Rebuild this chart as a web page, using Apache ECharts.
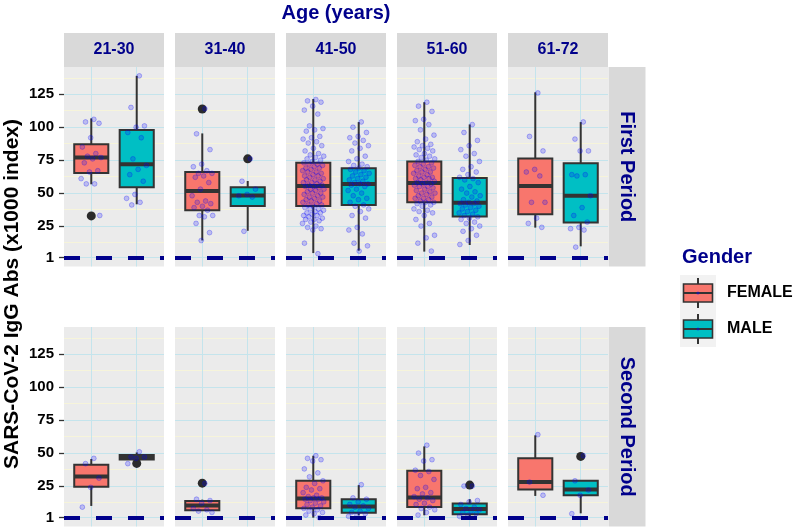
<!DOCTYPE html>
<html>
<head>
<meta charset="utf-8">
<title>SARS-CoV-2 IgG Abs by age, gender and period</title>
<script src="https://cdn.jsdelivr.net/npm/echarts@6.0.0/dist/echarts.min.js"></script>
<style>
  html, body { margin: 0; padding: 0; background: #fff; }
  #chart { width: 796px; height: 529px; }
</style>
</head>
<body>
<div id="chart"></div>
<script>
// facets
const ageGroups = ['21-30', '31-40', '41-50', '51-60', '61-72'];
const periods = ['First Period', 'Second Period'];
const genders = ['FEMALE', 'MALE'];

// y axis breaks
const yBreaks = [1, 25, 50, 75, 100, 125];
const yMinorBreaks = [13, 37.5, 62.5, 87.5, 112.5, 137.5];
const refLine = 1;

// box stats per age group: [lower whisker, Q1, median, Q3, upper whisker]
const firstFemaleBox = [
  [56.7, 65.3, 77, 87, 106.7],
  [14.1, 37, 51.6, 66.1, 95.3],
  [4.5, 40.2, 55.4, 73, 121.4],
  [5.6, 43, 57.7, 74, 119],
  [23.8, 33.9, 55.4, 76.3, 126.5]
];
const firstMaleBox = [
  [41.5, 54.4, 71.9, 97.8, 139],
  [21.4, 40.3, 48.2, 54.4, 59.2],
  [6.3, 41, 57, 68.9, 103.9],
  [10.6, 32.2, 42.6, 61.5, 102.1],
  [9.6, 27.6, 47.9, 72.7, 103.9]
];
const secondFemaleBox = [
  [9.9, 24.4, 32.3, 41.2, 45.5],
  [6.6, 6.6, 10.2, 13.7, 14.7],
  [1, 8.1, 15.5, 29, 48],
  [2.8, 9.1, 16.3, 36.6, 55.1],
  [17.5, 22.4, 28, 46, 63.5]
];
const secondMaleBox = [
  [45.2, 45.2, 47, 48.5, 50.5],
  null,
  [2.8, 4.8, 9.4, 15, 25.7],
  [2.3, 3.6, 7.6, 11.7, 15],
  [4.3, 18, 22.4, 29, 29]
];

// outliers per age group
const firstFemaleOut = [[32.7], [113.8], [], [], []];
const firstMaleOut = [[], [76], [], [], []];
const secondFemaleOut = [[], [27.2], [], [], []];
const secondMaleOut = [[42.2], [], [], [25.7], [47.5]];

// individual measurements per age group
const firstFemalePts = [
  [106, 104, 103, 92, 85, 80, 78, 77, 76, 73, 67, 66, 61, 57, 57, 33],
  [114, 95, 83, 72, 70, 67, 65, 65, 63, 62, 58, 53, 48, 44, 43, 42, 40, 39, 37, 33, 33, 32, 27, 20, 14],
  [121, 120, 119, 116, 113, 110, 101, 99, 98, 97, 93, 92, 91, 89, 88, 86, 84, 82, 80, 79, 78, 77, 76, 75, 74,
   73, 72, 72, 71, 70, 69, 69, 68, 67, 66, 66, 65, 64, 63, 63, 62, 61, 60, 60, 59, 58, 58, 57, 56, 56,
   55, 55, 54, 53, 53, 52, 51, 50, 50, 49, 48, 47, 47, 46, 45, 44, 44, 43, 42, 41, 41, 40,
   39, 38, 38, 37, 36, 35, 35, 34, 33, 33, 32, 31, 30, 30, 29, 28, 27, 25, 24, 23, 22, 12, 4],
  [119, 116, 112, 106, 105, 102, 98, 94, 91, 89, 87, 86, 85, 84, 83, 82, 80, 79, 78, 77, 76, 75,
   74, 73, 72, 71, 70, 70, 69, 68, 67, 66, 66, 65, 64, 63, 62, 62, 61, 61, 60, 59, 58, 58, 57,
   57, 56, 55, 55, 54, 53, 52, 51, 50, 50, 49, 48, 47, 46, 46, 45, 44, 43, 43,
   42, 41, 40, 38, 37, 36, 35, 33, 30, 27, 25, 18, 16, 12, 6],
  [126, 93, 82, 68, 66, 63, 43, 43, 31, 27, 24]
];
const firstMalePts = [
  [139, 115, 101, 100, 96, 92, 76, 71, 68, 64, 59, 49, 46, 43, 41],
  [76, 59, 53, 49, 48, 47, 21],
  [104, 100, 96, 93, 92, 90, 88, 86, 84, 82, 78, 76, 74, 72, 71, 70, 69, 68, 67, 66, 65, 64, 63, 62, 61,
   60, 59, 58, 57, 57, 56, 55, 53, 52, 50, 48, 46, 45, 43, 41, 40, 38, 36, 33, 31, 24, 22, 19, 12, 10, 6],
  [102, 96, 90, 86, 83, 80, 78, 74, 70, 68, 66, 64, 62, 61, 60, 58, 55, 53, 51, 50, 48, 47, 45, 44,
   43, 42, 42, 41, 40, 39, 38, 37, 36, 35, 34, 33, 32, 31, 30, 28, 27, 25, 23, 21, 18, 14, 11],
  [104, 91, 82, 82, 64, 64, 63, 48, 39, 33, 28, 24, 23, 22, 9]
];
const secondFemalePts = [
  [46, 42, 31, 24, 9],
  [27, 15, 14, 12, 8, 7, 6, 5],
  [48, 46, 45, 44, 38, 35, 32, 29, 27, 24, 23, 22, 20, 18, 17, 16, 16, 15, 15, 14, 13, 12, 11, 10, 9, 8, 7, 6, 5, 4, 3, 1],
  [56, 50, 45, 44, 37, 36, 33, 30, 24, 23, 20, 19, 17, 16, 15, 14, 12, 11, 9, 8, 7, 5, 3],
  [64, 28, 18]
];
const secondMalePts = [
  [51, 47, 47, 46, 42],
  [],
  [26, 16, 15, 13, 11, 10, 9, 8, 6, 5, 4, 3, 2],
  [25, 25, 14, 13, 11, 9, 8, 7, 6, 5, 4, 3, 2],
  [48, 29, 22, 18, 4]
];

const boxes = [[firstFemaleBox, firstMaleBox], [secondFemaleBox, secondMaleBox]];
const outliers = [[firstFemaleOut, firstMaleOut], [secondFemaleOut, secondMaleOut]];
const points = [[firstFemalePts, firstMalePts], [secondFemalePts, secondMalePts]];

// layout (px) and look
const COL_X = [64, 175, 286, 397, 508];
const ROW_Y = [67, 327];
const PANEL_W = 100, PANEL_H = 199.5;
const STRIP_TOP = 33, STRIP_H = 34;
const Y_MIN = -5.7, Y_MAX = 145.7;
const BOX_WIDTH = 0.75;
const FONT = 'Liberation Sans, Arial, sans-serif';
const NAVY = '#00008B';
const FILL = { FEMALE: '#F8766D', MALE: '#00BFC4' };
const INK = '#333333';
const MAJOR = '#C4E4EC', MINOR = '#F6F4DA';

// deterministic horizontal spread for the jittered dots (about +-0.24 units)
const spread = (i) => (((i + 1) * 0.6180339887) % 1 - 0.5) * 0.48;

function renderBox(params, api) {
  const x = api.value(0);
  const low = api.coord([x, api.value(1)]);
  const q1 = api.coord([x, api.value(2)]);
  const med = api.coord([x, api.value(3)]);
  const q3 = api.coord([x, api.value(4)]);
  const high = api.coord([x, api.value(5)]);
  const half = api.size([BOX_WIDTH / 2, 0])[0];
  const line = { stroke: INK, lineWidth: 2 };
  return {
    type: 'group',
    children: [
      { type: 'line', shape: { x1: high[0], y1: high[1], x2: q3[0], y2: q3[1] }, style: line },
      { type: 'line', shape: { x1: q1[0], y1: q1[1], x2: low[0], y2: low[1] }, style: line },
      { type: 'rect', shape: { x: q3[0] - half, y: q3[1], width: half * 2, height: q1[1] - q3[1] },
        style: { fill: x === 1 ? FILL.FEMALE : FILL.MALE, stroke: INK, lineWidth: 2 } },
      { type: 'line', shape: { x1: med[0] - half, y1: med[1], x2: med[0] + half, y2: med[1] },
        style: { stroke: INK, lineWidth: 4 } }
    ]
  };
}

const grids = [], xAxes = [], yAxes = [], series = [];

periods.forEach((period, r) => {
  ageGroups.forEach((age, c) => {
    const idx = r * ageGroups.length + c;
    grids.push({
      left: COL_X[c], top: ROW_Y[r], width: PANEL_W, height: PANEL_H,
      show: true, backgroundColor: '#EBEBEB', borderWidth: 0, outerBoundsMode: 'none'
    });
    xAxes.push({ gridIndex: idx, type: 'value', min: 0.4, max: 2.6, show: false });
    const first = c === 0;
    yAxes.push({
      gridIndex: idx, type: 'value', min: Y_MIN, max: Y_MAX,
      axisLine: { show: false },
      splitLine: { show: false },
      axisTick: first
        ? { show: true, customValues: yBreaks, length: 5, lineStyle: { color: INK, width: 1.3 } }
        : { show: false },
      axisLabel: first
        ? { show: true, customValues: yBreaks, margin: 10, color: '#000', fontWeight: 'bold', fontSize: 15, fontFamily: FONT }
        : { show: false }
    });

    const axisRef = { xAxisIndex: idx, yAxisIndex: idx };

    // panel grid lines (kept under the boxes)
    series.push({
      type: 'line', ...axisRef, data: [], silent: true, z: 1,
      markLine: {
        z: 1, silent: true, animation: false, symbol: ['none', 'none'], label: { show: false },
        data: [
          ...yMinorBreaks.map(v => ({ yAxis: v, lineStyle: { color: MINOR, width: 1, type: 'solid' } })),
          ...yBreaks.map(v => ({ yAxis: v, lineStyle: { color: MAJOR, width: 1, type: 'solid' } })),
          ...[1, 2].map(v => ({ xAxis: v, lineStyle: { color: MAJOR, width: 1, type: 'solid' } }))
        ]
      }
    });

    // boxes
    const boxData = [];
    genders.forEach((g, k) => {
      const b = boxes[r][k][c];
      if (b) boxData.push([k + 1, ...b]);
    });
    series.push({
      type: 'custom', ...axisRef, renderItem: renderBox, data: boxData,
      encode: { x: 0, y: [1, 2, 3, 4, 5] }, silent: true, z: 3
    });

    // outliers
    const outData = [];
    genders.forEach((g, k) => outliers[r][k][c].forEach(v => outData.push([k + 1, v])));
    series.push({
      type: 'scatter', ...axisRef, data: outData, symbolSize: 9, silent: true, z: 4,
      itemStyle: { color: '#2B2B2B', opacity: 1 }
    });

    // jittered measurements
    const ptData = [];
    genders.forEach((g, k) => points[r][k][c].forEach((v, i) => ptData.push([k + 1 + spread(i), v])));
    series.push({
      type: 'scatter', ...axisRef, data: ptData, symbolSize: 4.8, silent: true, z: 5,
      itemStyle: { color: 'rgba(0,0,255,0.25)', borderColor: 'rgba(0,0,255,0.42)', borderWidth: 0.8 }
    });

    // dashed reference at 1
    series.push({
      type: 'line', ...axisRef, data: [], silent: true, z: 6,
      markLine: {
        z: 8, silent: true, animation: false, symbol: ['none', 'none'], label: { show: false },
        data: [{ yAxis: refLine, lineStyle: { color: NAVY, width: 4, type: [16, 16] } }]
      }
    });
  });
});

// strips, titles and the legend key
const graphic = [];
ageGroups.forEach((age, c) => {
  graphic.push({ type: 'rect', shape: { x: COL_X[c], y: STRIP_TOP, width: PANEL_W, height: STRIP_H }, style: { fill: '#D9D9D9' } });
  graphic.push({ type: 'text', x: COL_X[c] + PANEL_W / 2, y: STRIP_TOP + STRIP_H / 2,
    style: { text: age, fill: NAVY, font: 'bold 16px ' + FONT, align: 'center', verticalAlign: 'middle' } });
});
const stripX = COL_X[4] + PANEL_W + 0.5, stripW = 37;
periods.forEach((p, r) => {
  graphic.push({ type: 'rect', shape: { x: stripX, y: ROW_Y[r], width: stripW, height: PANEL_H }, style: { fill: '#D9D9D9' } });
  graphic.push({ type: 'text', x: stripX + stripW / 2, y: ROW_Y[r] + PANEL_H / 2, rotation: -Math.PI / 2,
    style: { text: p, fill: NAVY, font: 'bold 20px ' + FONT, align: 'center', verticalAlign: 'middle' } });
});
graphic.push({ type: 'text', x: (COL_X[0] + COL_X[4] + PANEL_W) / 2, y: 13,
  style: { text: 'Age (years)', fill: NAVY, font: 'bold 20px ' + FONT, align: 'center', verticalAlign: 'middle' } });
graphic.push({ type: 'text', x: 12, y: 294, rotation: Math.PI / 2,
  style: { text: 'SARS-CoV-2 IgG Abs (x1000 index)', fill: '#000', font: 'bold 21px ' + FONT, align: 'center', verticalAlign: 'middle' } });

// legend
const legX = 680, legY = 275, keyW = 36, keyH = 36;
graphic.push({ type: 'text', x: legX + 2, y: legY - 18,
  style: { text: 'Gender', fill: NAVY, font: 'bold 20px ' + FONT, align: 'left', verticalAlign: 'middle' } });
genders.forEach((g, k) => {
  const top = legY + k * keyH, cx = legX + keyW / 2, cy = top + keyH / 2;
  graphic.push({ type: 'rect', shape: { x: legX, y: top, width: keyW, height: keyH }, style: { fill: '#F2F2F2' } });
  graphic.push({ type: 'line', shape: { x1: cx, y1: top + 3, x2: cx, y2: top + keyH - 3 }, style: { stroke: INK, lineWidth: 2 } });
  graphic.push({ type: 'rect', shape: { x: legX + 3.5, y: cy - 9, width: keyW - 7, height: 18 },
    style: { fill: FILL[g], stroke: INK, lineWidth: 1.6 } });
  graphic.push({ type: 'line', shape: { x1: legX + 3.5, y1: cy, x2: legX + keyW - 3.5, y2: cy }, style: { stroke: INK, lineWidth: 2 } });
  graphic.push({ type: 'circle', shape: { cx: cx, cy: cy, r: 1.6 }, style: { fill: 'rgba(0,0,255,0.45)' } });
  graphic.push({ type: 'text', x: legX + keyW + 11, y: cy,
    style: { text: g, fill: '#000', font: 'bold 16px ' + FONT, align: 'left', verticalAlign: 'middle' } });
});

const chart = echarts.init(document.getElementById('chart'), null, { renderer: 'canvas' });
chart.setOption({
  animation: false,
  backgroundColor: '#fff',
  grid: grids,
  xAxis: xAxes,
  yAxis: yAxes,
  series: series,
  graphic: graphic
});
</script>
</body>
</html>
